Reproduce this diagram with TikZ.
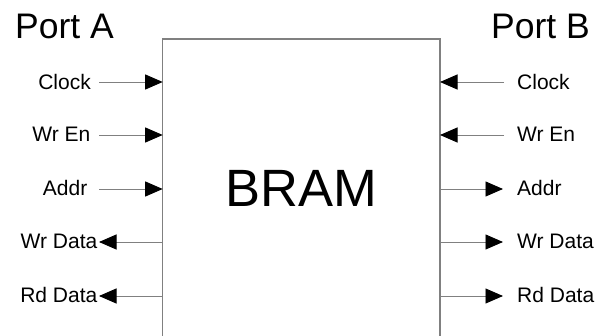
\documentclass[tikz,border=0pt]{standalone}
\usepackage{fontspec}
\setmainfont{Liberation Sans}
\usetikzlibrary{arrows.meta}
\definecolor{linegray}{RGB}{128,128,128}
\begin{document}
\begin{tikzpicture}[x=1pt,y=-1pt,
  sig/.style={draw=linegray, line width=0.9pt, -{Triangle[length=17.5pt,width=15pt,color=black]}},
  boxline/.style={draw=linegray, line width=1.2pt},
  lbl/.style={font=\fontsize{21}{25}\selectfont, inner sep=0pt},
  port/.style={font=\fontsize{35.5}{42}\selectfont, inner sep=0pt}]
\useasboundingbox (0,0) rectangle (599,336);
% box
\coordinate (bl) at (162.7,340);
\coordinate (tl) at (162.7,39);
\coordinate (tr) at (440,39);
\coordinate (br) at (440,340);
\draw[boxline] (bl) -- (tl) -- (tr) -- (br);
\node[font=\fontsize{52.5}{62}\selectfont, inner sep=0pt, anchor=base] (bram) at (301.4,207) {BRAM};
% port titles
\node[port, anchor=base west] (portA) at (15,39) {Port A};
\node[port, anchor=base east] (portB) at (590,39) {Port B};
% box edge points
\foreach \n/\y in {1/82,2/135,3/189,4/242,5/296}{
  \coordinate (L\n) at (162.7,\y);
  \coordinate (R\n) at (440,\y);
  \coordinate (LS\n) at (99,\y);
}
\coordinate (RS1) at (504,82);
\coordinate (RS2) at (504,135);
\coordinate (RS3) at (503,189);
\coordinate (RS4) at (503,242);
\coordinate (RS5) at (503,296);
% left labels
\node[lbl, anchor=base east] (lclk) at (91,89.5) {Clock};
\node[lbl, anchor=base east] (lwen) at (90.5,141.5) {Wr En};
\node[lbl, anchor=base east] (ladr) at (87.5,196) {Addr};
\node[lbl, anchor=base east] (lwd) at (97.5,248.5) {Wr Data};
\node[lbl, anchor=base east] (lrd) at (97.5,302.5) {Rd Data};
% right labels
\node[lbl, anchor=base west] (rclk) at (517,89.5) {Clock};
\node[lbl, anchor=base west] (rwen) at (517,141.5) {Wr En};
\node[lbl, anchor=base west] (radr) at (517,196) {Addr};
\node[lbl, anchor=base west] (rwd) at (517,248.5) {Wr Data};
\node[lbl, anchor=base west] (rrd) at (517,302.5) {Rd Data};
% left arrows
\draw[sig] (LS1) -- (L1);
\draw[sig] (LS2) -- (L2);
\draw[sig] (LS3) -- (L3);
\draw[sig] (L4) -- (LS4);
\draw[sig] (L5) -- (LS5);
% right arrows
\draw[sig] (RS1) -- (R1);
\draw[sig] (RS2) -- (R2);
\draw[sig] (R3) -- (RS3);
\draw[sig] (R4) -- (RS4);
\draw[sig] (R5) -- (RS5);
\end{tikzpicture}
\end{document}
